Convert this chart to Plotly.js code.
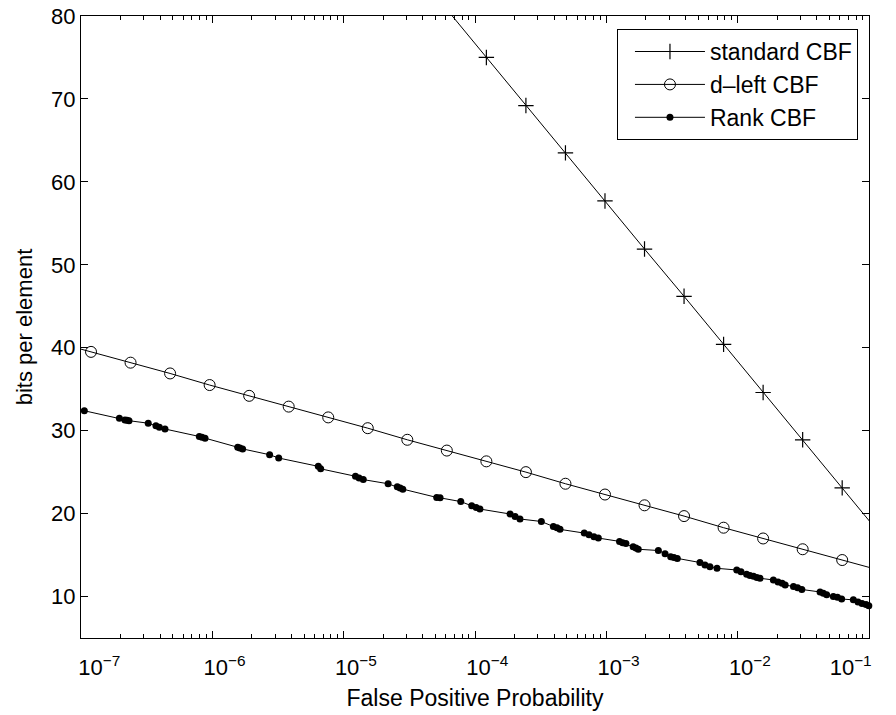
<!DOCTYPE html>
<html><head><meta charset="utf-8">
<script src="https://cdn.plot.ly/plotly-3.0.1.min.js"></script>
<style>html,body{margin:0;padding:0;background:#fff}#chart{width:896px;height:715px}</style>
</head><body><div id="chart"></div>
<script>
const seriesNames = ["standard CBF", "d\u2013left CBF", "Rank CBF"];

const standardX = [6.1035e-5, 1.2207e-4, 2.4414e-4, 4.8828e-4, 9.7656e-4, 1.9531e-3, 3.9063e-3, 7.8125e-3, 1.5625e-2, 3.125e-2, 6.25e-2, 0.125];
const standardY = [80.8, 75.0, 69.2, 63.5, 57.7, 51.9, 46.2, 40.4, 34.6, 28.9, 23.1, 17.3];

const dleftX = [5.9605e-8, 1.1921e-7, 2.3842e-7, 4.7684e-7, 9.5367e-7, 1.9073e-6, 3.8147e-6, 7.6294e-6, 1.5259e-5, 3.0518e-5, 6.1035e-5, 1.2207e-4, 2.4414e-4, 4.8828e-4, 9.7656e-4, 1.9531e-3, 3.9063e-3, 7.8125e-3, 1.5625e-2, 3.125e-2, 6.25e-2, 0.125];
const dleftY = [40.8, 39.5, 38.2, 36.9, 35.5, 34.2, 32.9, 31.6, 30.3, 28.9, 27.6, 26.3, 25.0, 23.6, 22.3, 21.0, 19.7, 18.3, 17.0, 15.7, 14.4, 13.1];

const rankX = [1.06e-7, 1.96e-7, 2.16e-7, 2.24e-7, 2.32e-7, 3.25e-7, 3.72e-7, 3.95e-7, 4.36e-7, 7.96e-7, 8.34e-7, 8.8e-7, 1.56e-6, 1.62e-6, 1.70e-6, 2.73e-6, 3.2e-6, 6.41e-6, 6.68e-6, 1.23e-5, 1.31e-5, 1.41e-5, 2.18e-5, 2.56e-5, 2.69e-5, 2.82e-5, 5.11e-5, 5.42e-5, 7.79e-5, 9.44e-5, 1.02e-4, 1.09e-4, 1.85e-4, 2.02e-4, 2.2e-4, 3.2e-4, 3.95e-4, 4.21e-4, 4.44e-4, 6.79e-4, 7.38e-4, 8.05e-4, 8.69e-4, 1.26e-3, 1.33e-3, 1.41e-3, 1.6e-3, 1.68e-3, 1.75e-3, 2.49e-3, 2.8e-3, 3.09e-3, 3.27e-3, 3.47e-3, 5.16e-3, 5.64e-3, 6.15e-3, 6.96e-3, 9.84e-3, 1.06e-2, 1.17e-2, 1.24e-2, 1.32e-2, 1.40e-2, 1.48e-2, 1.87e-2, 2.03e-2, 2.18e-2, 2.3e-2, 2.66e-2, 2.86e-2, 3.08e-2, 4.24e-2, 4.49e-2, 4.76e-2, 5.35e-2, 5.75e-2, 6.19e-2, 7.6e-2, 8.25e-2, 8.85e-2, 9.49e-2, 9.97e-2];
const rankY = [32.4, 31.5, 31.3, 31.25, 31.2, 30.9, 30.6, 30.4, 30.2, 29.3, 29.2, 29.1, 28.0, 27.9, 27.8, 27.1, 26.7, 25.7, 25.4, 24.5, 24.3, 24.1, 23.6, 23.25, 23.1, 22.95, 21.95, 21.9, 21.45, 20.95, 20.75, 20.55, 19.95, 19.65, 19.35, 19.05, 18.45, 18.3, 18.1, 17.65, 17.45, 17.2, 17.05, 16.65, 16.5, 16.4, 16.0, 15.85, 15.7, 15.55, 15.15, 14.8, 14.7, 14.6, 14.1, 13.8, 13.6, 13.4, 13.2, 13.0, 12.7, 12.55, 12.45, 12.3, 12.2, 12.0, 11.75, 11.6, 11.4, 11.2, 11.05, 10.85, 10.55, 10.4, 10.2, 10.0, 9.9, 9.7, 9.6, 9.35, 9.15, 9.05, 8.9];

const xTickVals = [1e-7, 1e-6, 1e-5, 1e-4, 1e-3, 1e-2, 1e-1];
const xTickExps = ["\u22127", "\u22126", "\u22125", "\u22124", "\u22123", "\u22122", "\u22121"];
const yTickVals = [10, 20, 30, 40, 50, 60, 70, 80];

const xTitle = "False Positive Probability";
const yTitle = "bits per element";

// MATLAB-style label placement: base "10" roughly over the tick, end labels pulled inside
const NB = "\u00a0";
const xTickText = xTickExps.map((e, i) => {
  const lab = "10<sup>" + e + "</sup>";
  if (i === 0) return NB.repeat(6) + lab;
  if (i === xTickExps.length - 1) return lab + NB.repeat(6);
  return NB.repeat(4) + lab;
});

const traces = [
  {x: standardX, y: standardY, name: seriesNames[0], type: 'scatter', mode: 'lines+markers', cliponaxis: false,
   line: {color: 'black', width: 1},
   marker: {symbol: 'cross-thin-open', size: 11, color: 'black', line: {color: 'black', width: 1.2}}},
  {x: dleftX, y: dleftY, name: seriesNames[1], type: 'scatter', mode: 'lines+markers', cliponaxis: false,
   line: {color: 'black', width: 1},
   marker: {symbol: 'circle-open', size: 11, color: 'black', line: {color: 'black', width: 1}}},
  {x: rankX, y: rankY, name: seriesNames[2], type: 'scatter', mode: 'lines+markers', cliponaxis: false,
   line: {color: 'black', width: 1},
   marker: {symbol: 'circle', size: 7, color: 'black', line: {width: 0}}}
];

const font = 'Liberation Sans, Arial, Helvetica, sans-serif';
const layout = {
  width: 896, height: 715,
  margin: {l: 81, r: 27, t: 16, b: 77},
  paper_bgcolor: 'white', plot_bgcolor: 'white',
  font: {family: font, color: 'black', size: 22},
  showlegend: true,
  legend: {x: 0.986, xanchor: 'right', y: 0.979, yanchor: 'top', bordercolor: 'black', borderwidth: 1,
           bgcolor: 'white', font: {size: 23, family: font, color: 'black'}, itemwidth: 70,
           indentation: 12, tracegroupgap: 0},
  xaxis: {type: 'log', range: [-7, -1], tickmode: 'array', tickvals: xTickVals, ticktext: xTickText,
          ticklabeloverflow: 'allow', ticklabelstandoff: 10,
          showline: true, linecolor: 'black', linewidth: 1, mirror: 'allticks',
          ticks: 'inside', ticklen: 7, tickcolor: 'black', tickwidth: 1,
          showgrid: false, zeroline: false, tickfont: {size: 22},
          minor: {ticks: 'inside', ticklen: 4, tickcolor: 'black', tickwidth: 1, showgrid: false, dtick: 'D1'},
          title: {text: xTitle, font: {size: 23}, standoff: 10}},
  yaxis: {range: [5, 80], tickmode: 'array', tickvals: yTickVals,
          showline: true, linecolor: 'black', linewidth: 1, mirror: 'allticks',
          ticks: 'inside', ticklen: 7, tickcolor: 'black', tickwidth: 1,
          showgrid: false, zeroline: false, tickfont: {size: 22},
          title: {text: yTitle, font: {size: 22}, standoff: 12}}
};

Plotly.newPlot('chart', traces, layout, {displayModeBar: false, staticPlot: true});
</script>
</body></html>
